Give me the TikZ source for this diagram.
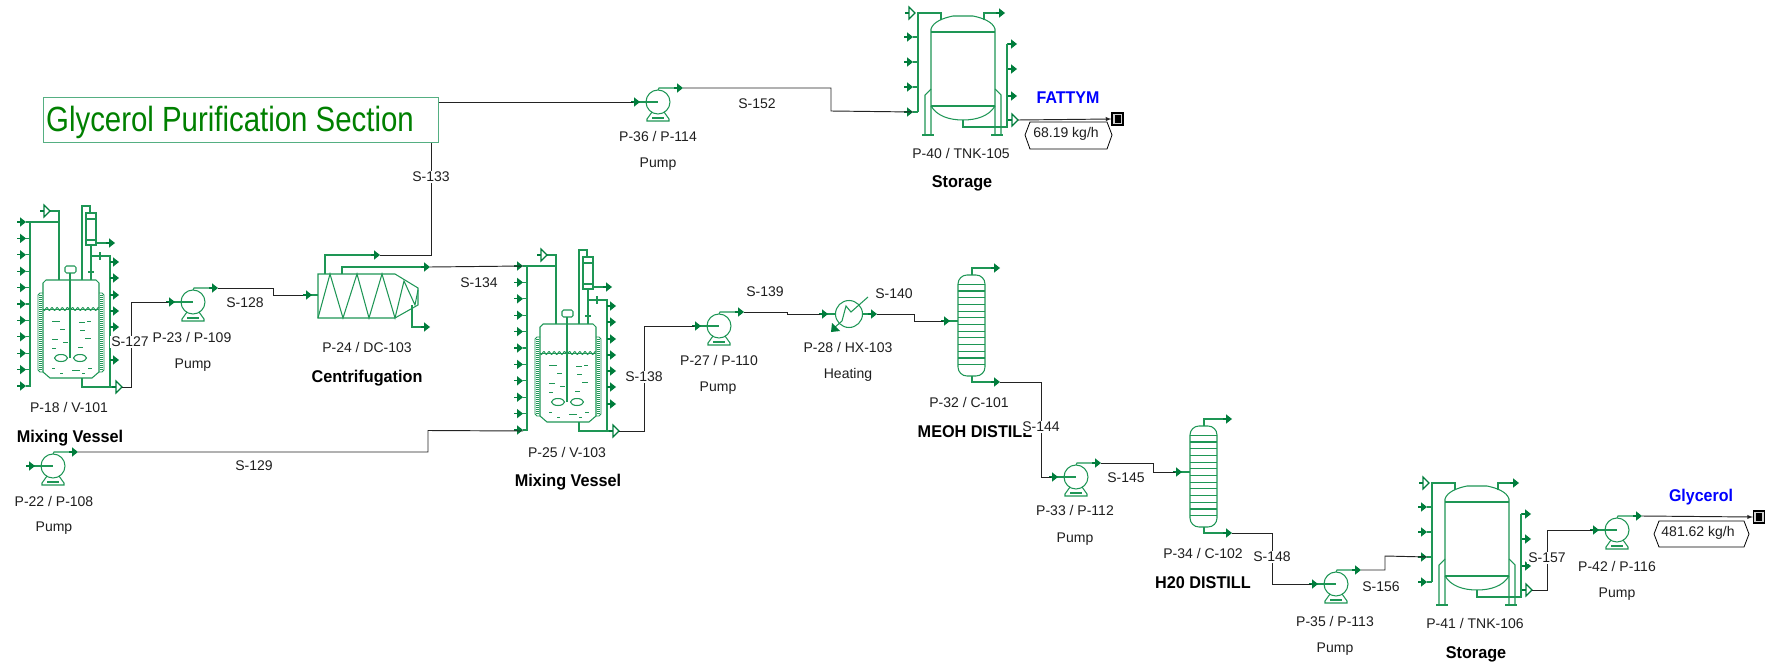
\documentclass[tikz,border=0pt]{standalone}
\usepackage{fontspec}
\setmainfont{Liberation Sans}
\definecolor{eq}{RGB}{30,150,85}
\definecolor{arr}{RGB}{0,125,60}
\definecolor{conn}{RGB}{35,35,35}
\definecolor{titlegreen}{RGB}{0,128,0}
\definecolor{titlebox}{RGB}{85,175,130}
\definecolor{txt}{RGB}{30,30,30}
\tikzset{
  eqline/.style={draw=eq,line width=1.05pt},
  flowline/.style={draw=conn,line width=.95pt},
  lab/.style={font=\fontsize{14}{14}\selectfont,text=txt,inner sep=1pt},
  slab/.style={font=\fontsize{14}{14}\selectfont,text=txt,fill=white,inner sep=1.5pt},
  blab/.style={font=\fontsize{17}{17}\selectfont\bfseries,text=black,xscale=.955,inner sep=0pt},
  bluelab/.style={font=\fontsize{17}{17}\selectfont\bfseries,text=blue,xscale=.94,inner sep=0pt},
  farr/.pic={\draw[arr,line width=1.1pt] (-9,0) -- (-4,0); \fill[arr] (0,0) -- (-6,-4.7) -- (-6,4.7) -- cycle;},
  harr/.pic={\draw[arr,line width=1.1pt] (-10,0) -- (-6,0); \draw[arr,line width=1.1pt,fill=white] (0,0) -- (-6,-6) -- (-6,6) -- cycle;},
  tagbox/.style={draw=black,line width=.8pt},
  terminal/.style={draw=black,line width=1.2pt,fill=gray!35,minimum width=11pt,minimum height=12pt,inner sep=0pt}
}
% pump: origin at casing centre
\newcommand{\pumpsym}[3]{%
\begin{scope}[shift={(#2,#3)}]
  \draw[eqline] (0,0) circle (12);
  \draw[eqline] (-22,0) -- (0,0);
  \draw[eqline] (0,-12) -- (1,-14) -- (20,-14);
  \draw[eqline] (-6,10) -- (-11,17) -- (-11,19) -- (11,19) -- (11,17) -- (6,10);
  \draw[eqline] (-6,16) -- (6,16);
  \pic at (-18,0) {farr};
  \pic at (25,-14) {farr};
  \coordinate (#1-in) at (-25,0);
  \coordinate (#1-out) at (25,-14);
\end{scope}}
% vessel: origin at top-left corner of body
\newcommand{\vesselsym}[3]{%
\begin{scope}[shift={(#2,#3)}]
  \draw[eqline] (3,0) -- (53,0) -- (56,3) -- (56,92) -- (49,98) -- (7,98) -- (0,92) -- (0,3) -- cycle;
  \draw[eq,line width=.8pt] (0,13) -- (-3,13) -- (-5,15) -- (-5,90) -- (-3,92) -- (0,92);
  \draw[eq,line width=.8pt] (56,13) -- (59,13) -- (61,15) -- (61,90) -- (59,92) -- (56,92);
  \draw[eq,line width=3pt,dash pattern=on 1pt off 1pt] (-2.5,15) -- (-2.5,90);
  \draw[eq,line width=3pt,dash pattern=on 1pt off 1pt] (58.5,15) -- (58.5,90);
  \draw[eq,line width=.9pt,domain=0:56,samples=80] plot (\x,{29+1.5*sin(\x*70)});
  \draw[eq,line width=.9pt] (0,29.5) -- (56,29.5);
  \draw[eqline] (27,-7) -- (27,78);
  \draw[eqline,rounded corners=1.5pt] (22,-14) rectangle (33,-7);
  \draw[eqline] (18,78) ellipse (6.5 and 3.5);
  \draw[eqline] (37,78) ellipse (6.5 and 3.5);
  \foreach \a/\b/\c in {9/17/41,36/42/42,44/48/41,17/22/49,37/42/50,9/15/59,20/25/62,42/48/58,35/40/67,9/13/68,17/20/93,29/37/90,39/42/93,45/49/88,9/12/88}
    \draw[eq,line width=.9pt] (\a,\c) -- (\b,\c);
  % left manifold
  \draw[eqline] (-13,107) -- (-13,-58) -- (16,-58);
  \draw[eqline] (7,-69) -- (16,-69) -- (16,0);
  \foreach \k in {0,...,10} \pic at (-17,{-58+16.4*\k}) {farr};
  \foreach \k in {0,...,10} \draw[eqline] (-17,{-58+16.4*\k}) -- (-13,{-58+16.4*\k});
  \pic at (7,-69) {harr};
  % condenser
  \draw[eqline] (39,0) -- (39,-74) -- (47,-74) -- (47,-67);
  \draw[eqline] (48,-35) -- (48,0);
  \draw[eqline] (45,-8) -- (51,-8);
  \draw[eqline,fill=white] (43,-67) rectangle (53,-35);
  \draw[eq,line width=1.8pt] (42,-61) -- (54,-61);
  \draw[eq,line width=1.8pt] (42,-40) -- (54,-40);
  \draw[eqline] (53,-37) -- (70,-37);
  \pic at (72,-37) {farr};
  % right manifold
  \draw[eqline] (48,-24) -- (67,-24) -- (67,107);
  \draw[eqline] (57,-28) -- (57,-20);
  \foreach \y in {-18,-2,15,31,47,63,80} {\draw[eqline] (67,\y) -- (72,\y); \pic at (76,\y) {farr};}
  \draw[eqline] (39,98) -- (39,107) -- (70,107);
  \pic at (79,107) {harr};
  \coordinate (#1-top) at (-17,-58);
  \coordinate (#1-bot) at (-17,107);
  \coordinate (#1-out) at (79,107);
\end{scope}}
% storage tank: origin at left end of the upper band
\newcommand{\tanksym}[3]{%
\begin{scope}[shift={(#2,#3)}]
  \draw[eqline] (0,103) -- (0,-3) .. controls (2,-10) and (12,-14) .. (22,-16) -- (42,-16) .. controls (52,-14) and (62,-10) .. (64,-3) -- (64,103);
  \draw[eqline] (0,0) -- (64,0);
  \draw[eqline] (0,74) -- (64,74);
  \draw[eqline] (0,74) .. controls (6,84) and (18,88) .. (32,88) .. controls (46,88) and (58,84) .. (64,74);
  \draw[eqline] (0,57) -- (-6,63) -- (-6,103);
  \draw[eqline] (64,57) -- (70,63) -- (70,103);
  \draw[eq,line width=2.2pt] (-9,103) -- (3,103);
  \draw[eq,line width=2.2pt] (60,103) -- (72,103);
  \draw[eqline] (-13,80) -- (-13,-19) -- (10,-19) -- (10,-12);
  \draw[eqline] (53,-12) -- (53,-19) -- (70,-19);
  \pic at (74,-19) {farr};
  \pic at (-16,-19) {harr};
  \foreach \y in {5,30,55,80} {\draw[eqline] (-18,\y) -- (-13,\y); \pic at (-18,\y) {farr};}
  \draw[eqline] (32,88) -- (32,95) -- (76,95) -- (76,12);
  \foreach \y in {12,37,64} {\draw[eqline] (76,\y) -- (82,\y); \pic at (86,\y) {farr};}
  \draw[eqline] (76,88) -- (81,88);
  \pic at (87,88) {harr};
  \coordinate (#1-in) at (-18,80);
  \coordinate (#1-in2) at (-18,55);
  \coordinate (#1-out) at (87,88);
\end{scope}}
% column: origin at top-left of bounding box
\newcommand{\columnsym}[3]{%
\begin{scope}[shift={(#2,#3)}]
  \draw[eqline,rounded corners=9pt] (0,0) rectangle (27,101);
  \foreach \k in {0,...,12} \draw[eqline] (0,{9.3+6.7*\k}) -- (27,{9.3+6.7*\k});
  \draw[eqline] (14,0) -- (14,-7) -- (38,-7);
  \pic at (42,-7) {farr};
  \draw[eqline] (14,101) -- (14,107) -- (38,107);
  \pic at (42,107) {farr};
  \draw[eqline] (-10,46) -- (0,46);
  \pic at (-8,46) {farr};
  \coordinate (#1-in) at (-15,46);
  \coordinate (#1-bot) at (42,107);
\end{scope}}
\begin{document}
\begin{tikzpicture}[x=1pt,y=-1pt]
\useasboundingbox (0,0) rectangle (1769,666);
\fill[white] (0,0) rectangle (1769,666);
% equipment
\vesselsym{vA}{43}{280}
\vesselsym{vB}{540}{324}
\pumpsym{p23}{193}{302}
\pumpsym{p22}{53}{466}
\pumpsym{p36}{658}{102}
\pumpsym{p27}{719}{326}
\pumpsym{p33}{1076}{477}
\pumpsym{p35}{1336}{584}
\pumpsym{p42}{1617}{530}
\tanksym{tA}{931}{32}
\tanksym{tB}{1445}{502}
\columnsym{cA}{958}{275}
\columnsym{cB}{1190}{426}
% centrifuge
\draw[eqline] (318,274) -- (395,274) -- (418,288) -- (418,305) -- (395,318) -- (318,318) -- cycle;
\draw[eqline] (318,318) -- (330,274) -- (343,318) -- (357,274) -- (369,318) -- (382,274) -- (395,318) -- (404,281) -- (415,305) -- (418,290);
\draw[eqline] (325,274) -- (325,255) -- (376,255);
\draw[eqline] (342,274) -- (342,267) -- (426,267);
\draw[eqline] (412,305) -- (412,327) -- (426,327);
\draw[eqline] (306,295) -- (318,295);
\pic at (312,295) {farr};
\pic at (380,255) {farr};
\pic at (430,267) {farr};
\pic at (430,327) {farr};
\coordinate (dcin) at (303,295);
\coordinate (dcoutA) at (380,255);
\coordinate (dcoutB) at (430,267);
% heat exchanger
\draw[eqline] (849,314) circle (13.5);
\draw[eqline] (822,314) -- (835.5,314);
\draw[eqline] (862.5,314) -- (874,314);
\draw[eqline] (868,297) -- (851,312) -- (846,306) -- (842,321) -- (834,328);
\pic at (828,314) {farr};
\pic at (877,314) {farr};
\fill[arr] (831,332) -- (832,323) -- (840,331) -- cycle;
\coordinate (hxin) at (820,314);
\coordinate (hxout) at (877,314);
% connectors
\draw[flowline] (vA-out) -- (131,387) -- (131,302) -- (p23-in);
\draw[flowline] (p23-out) -- (273,288) -- (273,295) -- (dcin);
\draw[flowline] (dcoutA) -- (431,255) -- (431,102) -- (p36-in);
\draw[flowline] (dcoutB) -- (vB-top);
\draw[flowline] (p22-out) -- (428,452) -- (428,430.5) -- (vB-bot);
\draw[flowline] (p36-out) -- (831,88) -- (831,111) -- (tA-in);
\draw[flowline] (vB-out) -- (644,431) -- (644,326) -- (p27-in);
\draw[flowline] (p27-out) -- (787,312) -- (787,314) -- (hxin);
\draw[flowline] (hxout) -- (914,314) -- (914,321) -- (cA-in);
\draw[flowline] (cA-bot) -- (1041,382) -- (1041,477) -- (p33-in);
\draw[flowline] (p33-out) -- (1153,463) -- (1153,472) -- (cB-in);
\draw[flowline] (cB-bot) -- (1272,533) -- (1272,584) -- (p35-in);
\draw[flowline] (p35-out) -- (1385,570) -- (1385,556) -- (tB-in2);
\draw[flowline] (tB-out) -- (1547,590) -- (1547,530) -- (p42-in);
% title box
\node[draw=titlebox,line width=1pt,fill=white,minimum width=395pt,minimum height=45pt,inner sep=0pt] (title) at (240.5,120.5) {};
\node[anchor=west,font=\fontsize{35}{35}\selectfont,text=titlegreen,xscale=.84,inner sep=0pt] (titletext) at (46,122) {Glycerol Purification Section};
% outputs
\node[terminal] (endA) at (1117.5,119) {\rule{6pt}{8pt}};
\node[terminal] (endB) at (1759,517) {\rule{6pt}{8pt}};
\draw[flowline,-latex] (tA-out) -- (endA.west);
\draw[flowline,-latex] (p42-out) -- (endB.west);
\draw[tagbox] (1025,135) -- (1030,122) -- (1107,122) -- (1112,135) -- (1107,149) -- (1030,149) -- cycle;
\draw[tagbox] (1654,534) -- (1659,521) -- (1744,521) -- (1749,534) -- (1744,547) -- (1659,547) -- cycle;
\node[lab] (tagA) at (1066,134) {68.19 kg/h};
\node[lab] (tagB) at (1698,533) {481.62 kg/h};
\node[bluelab] (nA) at (1068,98) {FATTYM};
\node[bluelab] (nB) at (1701,497) {Glycerol};
% equipment labels
\node[lab] (l1) at (69,407) {P-18 / V-101};
\begin{scope}
\clip (0,425) rectangle (200,445);
\node[blab] (l2) at (70,438) {Mixing Vessel};
\end{scope}
\node[lab] (l3) at (192,337) {P-23 / P-109};
\node[lab] (l4) at (193,365) {Pump};
\node[lab] (l5) at (367,347) {P-24 / DC-103};
\node[blab] (l6) at (367,378) {Centrifugation};
\node[lab] (l7) at (54,501) {P-22 / P-108};
\node[lab] (l8) at (54,528) {Pump};
\node[lab] (l9) at (567,452) {P-25 / V-103};
\node[blab] (l10) at (568,482) {Mixing Vessel};
\node[lab] (l11) at (719,360) {P-27 / P-110};
\node[lab] (l12) at (718,388) {Pump};
\node[lab] (l13) at (848,347) {P-28 / HX-103};
\node[lab] (l14) at (848,375) {Heating};
\node[lab] (l15) at (969,402) {P-32 / C-101};
\node[blab] (l16) at (975,432) {MEOH DISTILL};
\node[lab] (l17) at (1075,510) {P-33 / P-112};
\node[lab] (l18) at (1075,539) {Pump};
\node[lab] (l19) at (1203,553) {P-34 / C-102};
\node[blab] (l20) at (1203,583) {H20 DISTILL};
\node[lab] (l21) at (1335,621) {P-35 / P-113};
\node[lab] (l22) at (1335,649) {Pump};
\node[lab] (l23) at (1475,623) {P-41 / TNK-106};
\node[blab] (l24) at (1476,654) {Storage};
\node[lab] (l25) at (1617,566) {P-42 / P-116};
\node[lab] (l26) at (1617,594) {Pump};
\node[lab] (l27) at (658,136) {P-36 / P-114};
\node[lab] (l28) at (658,164) {Pump};
\node[lab] (l29) at (961,153) {P-40 / TNK-105};
\node[blab] (l30) at (962,183) {Storage};
% stream labels
\node[slab] (s127) at (130,342) {S-127};
\node[lab] (s128) at (245,303) {S-128};
\node[lab] (s129) at (254,466) {S-129};
\node[slab] (s133) at (431,177) {S-133};
\node[lab] (s134) at (479,283) {S-134};
\node[slab] (s138) at (644,377) {S-138};
\node[lab] (s139) at (765,292) {S-139};
\node[lab] (s140) at (894,294) {S-140};
\node[slab] (s144) at (1041,427) {S-144};
\node[lab] (s145) at (1126,478) {S-145};
\node[slab] (s148) at (1272,557) {S-148};
\node[lab] (s152) at (757,104) {S-152};
\node[lab] (s156) at (1381,587) {S-156};
\node[slab] (s157) at (1547,558) {S-157};
\end{tikzpicture}
\end{document}
